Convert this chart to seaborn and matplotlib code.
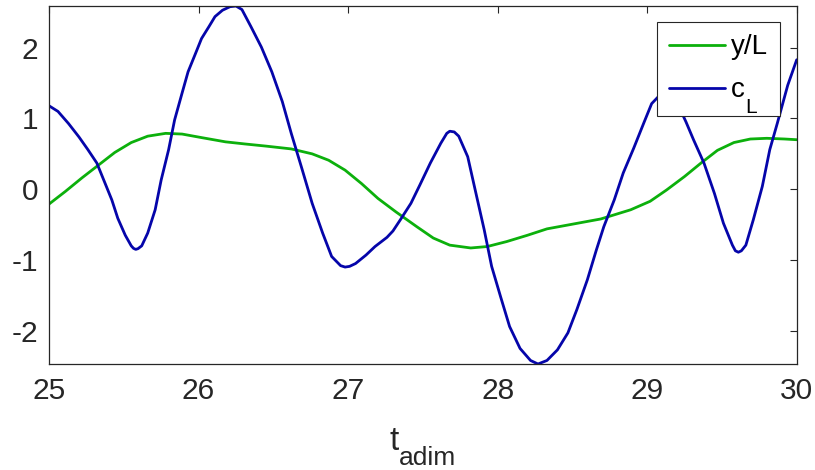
import matplotlib
matplotlib.use("Agg")
import matplotlib.pyplot as plt
import seaborn as sns
import pandas as pd

# c_L series (blue)
t_cl = [25.00, 25.06, 25.13, 25.20, 25.26, 25.32, 25.37, 25.42, 25.46, 25.51, 25.55, 25.565,
        25.58, 25.595, 25.62, 25.66, 25.71, 25.75, 25.80, 25.84, 25.89, 25.93, 25.98, 26.02,
        26.07, 26.11, 26.16, 26.21, 26.25, 26.29, 26.35, 26.42, 26.49, 26.56, 26.62, 26.69,
        26.76, 26.83, 26.89, 26.95, 26.98, 27.01, 27.05, 27.12, 27.18, 27.26, 27.30, 27.35,
        27.42, 27.48, 27.55, 27.62, 27.66, 27.68, 27.71, 27.74, 27.80, 27.85, 27.91, 27.96,
        28.02, 28.08, 28.15, 28.22, 28.27, 28.33, 28.40, 28.47, 28.53, 28.60, 28.66, 28.71,
        28.78, 28.84, 28.91, 28.98, 29.03, 29.08, 29.12, 29.16, 29.21, 29.26, 29.31, 29.38,
        29.45, 29.51, 29.57, 29.59, 29.61, 29.63, 29.66, 29.71, 29.77, 29.82, 29.87, 29.94,
        30.00]
cl = [1.18, 1.10, 0.93, 0.74, 0.56, 0.37, 0.11, -0.15, -0.41, -0.65, -0.80, -0.835,
      -0.85, -0.84, -0.80, -0.62, -0.29, 0.13, 0.56, 0.98, 1.36, 1.66, 1.92, 2.13,
      2.30, 2.44, 2.53, 2.58, 2.59, 2.54, 2.30, 2.01, 1.66, 1.24, 0.79, 0.30,
      -0.20, -0.62, -0.95, -1.08, -1.10, -1.09, -1.05, -0.93, -0.81, -0.68, -0.59, -0.43,
      -0.20, 0.06, 0.37, 0.65, 0.79, 0.82, 0.81, 0.75, 0.46, -0.01, -0.57, -1.09,
      -1.52, -1.94, -2.25, -2.42, -2.47, -2.42, -2.27, -2.03, -1.70, -1.28, -0.86, -0.53,
      -0.15, 0.23, 0.58, 0.95, 1.21, 1.32, 1.36, 1.33, 1.18, 0.95, 0.70, 0.37,
      -0.06, -0.48, -0.79, -0.87, -0.89, -0.87, -0.79, -0.43, 0.04, 0.56, 0.93, 1.47,
      1.83]

# y/L series (green)
t_y = [25.00, 25.11, 25.22, 25.33, 25.44, 25.55, 25.66, 25.78, 25.89, 26.02, 26.18, 26.31,
       26.45, 26.62, 26.76, 26.87, 26.98, 27.09, 27.20, 27.32, 27.46, 27.57, 27.68, 27.82,
       27.93, 28.06, 28.20, 28.33, 28.51, 28.69, 28.89, 29.02, 29.13, 29.25, 29.36, 29.47,
       29.58, 29.69, 29.80, 29.92, 30.00]
yL = [-0.21, -0.03, 0.16, 0.34, 0.52, 0.66, 0.75, 0.79, 0.78, 0.73, 0.67, 0.64,
      0.61, 0.57, 0.50, 0.41, 0.27, 0.08, -0.13, -0.32, -0.53, -0.69, -0.79, -0.83,
      -0.81, -0.74, -0.65, -0.56, -0.49, -0.42, -0.29, -0.17, -0.01, 0.18, 0.37, 0.55,
      0.66, 0.71, 0.72, 0.71, 0.70]

x_ticks = [25, 26, 27, 28, 29, 30]
y_ticks = [-2, -1, 0, 1, 2]

sns.set_theme(style="white")
plt.rcParams['font.family'] = ['Liberation Sans', 'DejaVu Sans']

dark = '#262626'
green = '#0cb00c'
blue = '#0505aa'

W, H = 815, 470
fig = plt.figure(figsize=(W / 100, H / 100), dpi=100)
ax = fig.add_axes([49 / W, 1 - 364 / H, (796.7 - 49) / W, (364 - 6) / H])

df_y = pd.DataFrame({'t': t_y, 'v': yL})
df_c = pd.DataFrame({'t': t_cl, 'v': cl})
sns.lineplot(data=df_y, x='t', y='v', ax=ax, color=green, lw=2.0, sort=False,
             estimator=None, label='y/L')
sns.lineplot(data=df_c, x='t', y='v', ax=ax, color=blue, lw=2.0, sort=False,
             estimator=None, label='c')

ax.set_xlim(25, 30)
ax.set_ylim(-2.47, 2.59)
ax.set_xticks(x_ticks)
ax.set_yticks(y_ticks)
ax.set_xticklabels([str(v) for v in x_ticks])
ax.set_yticklabels([str(v) for v in y_ticks])
ax.tick_params(direction='in', length=5, width=0.8, color=dark, labelcolor=dark,
               labelsize=21.5, top=True, right=True)
ax.tick_params(axis='x', pad=9.5)
ax.tick_params(axis='y', pad=8)
for s in ax.spines.values():
    s.set_color(dark)
    s.set_linewidth(0.9)
    s.set_visible(True)

ax.set_ylabel('')
ax.set_xlabel('')

# x label t_adim (subscript drawn as its own text)
fig.text(389 / W, 1 - 450 / H, 't', fontsize=24, color=dark, ha='left', va='baseline')
fig.text(399 / W, 1 - 465 / H, 'adim', fontsize=19, color=dark, ha='left', va='baseline')

leg = ax.legend(loc='upper right', bbox_to_anchor=((780 - 49) / (796.7 - 49), (364 - 22) / 358),
                fontsize=20, fancybox=False, framealpha=1, edgecolor=dark, handlelength=2.0,
                handletextpad=0.22, borderpad=0.44, labelspacing=0.62, borderaxespad=0)
leg.get_frame().set_linewidth(0.8)
for t in leg.get_texts():
    t.set_color('black')

# subscript L of c_L in legend
fig.canvas.draw()
bb = leg.get_texts()[1].get_window_extent()
fig.text((bb.x1 + 1) / W, (bb.y0 - 10) / H, 'L', fontsize=15, color='black',
         ha='left', va='baseline')

fig.savefig('out.png', dpi=100)
